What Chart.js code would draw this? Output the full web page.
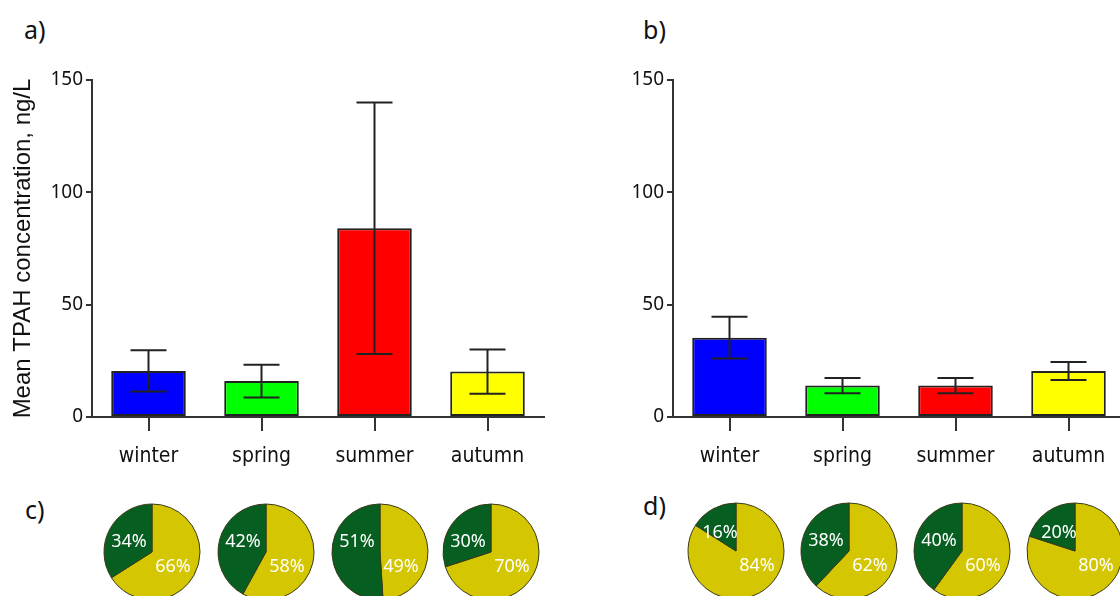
<!DOCTYPE html>
<html>
<head>
<meta charset="utf-8">
<script src="https://cdn.jsdelivr.net/npm/chart.js@4.4.1/dist/chart.umd.min.js"></script>
<style>
  html, body { margin: 0; padding: 0; background: #fff; }
  body { position: relative; width: 1120px; height: 596px; overflow: hidden; }
  canvas { position: absolute; }
  .tag { position: absolute; font-family: "Noto Sans", sans-serif; font-size: 25px; color: #111; line-height: 1; }
</style>
</head>
<body>
<div class="tag" style="left:24px; top:17px;">a)</div>
<div class="tag" style="left:643px; top:17px;">b)</div>
<div class="tag" style="left:25px; top:497px;">c)</div>
<div class="tag" style="left:643px; top:493px;">d)</div>

<canvas id="chartA" width="560" height="480" style="left:0; top:0;"></canvas>
<canvas id="chartB" width="560" height="480" style="left:581px; top:0;"></canvas>

<canvas id="pieC0" width="104" height="104"></canvas>
<canvas id="pieC1" width="104" height="104"></canvas>
<canvas id="pieC2" width="104" height="104"></canvas>
<canvas id="pieC3" width="104" height="104"></canvas>
<canvas id="pieD0" width="104" height="104"></canvas>
<canvas id="pieD1" width="104" height="104"></canvas>
<canvas id="pieD2" width="104" height="104"></canvas>
<canvas id="pieD3" width="104" height="104"></canvas>

<script>
// data
const seasons = ['winter', 'spring', 'summer', 'autumn'];
const yTicks = [0, 50, 100, 150];
const meanA = [20.5, 16, 84, 20.2];
const errA = [9.2, 7.3, 56, 9.8];
const meanB = [35.3, 14, 14, 20.5];
const errB = [9.3, 3.4, 3.4, 4];
const barColors = ['#0000ff', '#00ff00', '#ff0000', '#ffff00'];
// pie shares (dark = first %, light = second %)
const darkC = [34, 42, 51, 30];
const lightC = [66, 58, 49, 70];
const darkD = [16, 38, 40, 20];
const lightD = [84, 62, 60, 80];

const axisColor = '#333';

// draws mean +/- error whiskers on top of the bars
const errorBars = {
    id: 'errorBars',
    afterDatasetsDraw(chart, args, opts) {
        const meta = chart.getDatasetMeta(0);
        const yScale = chart.scales.y;
        const vals = chart.data.datasets[0].data;
        const ctx = chart.ctx;
        ctx.save();
        ctx.strokeStyle = '#222';
        ctx.lineWidth = 2;
        meta.data.forEach(function(bar, i) {
            const hi = yScale.getPixelForValue(vals[i] + opts.errors[i]);
            const lo = yScale.getPixelForValue(vals[i] - opts.errors[i]);
            const half = 18;
            ctx.beginPath();
            ctx.moveTo(bar.x, hi);
            ctx.lineTo(bar.x, lo);
            ctx.moveTo(bar.x - half, hi);
            ctx.lineTo(bar.x + half, hi);
            ctx.moveTo(bar.x - half, lo);
            ctx.lineTo(bar.x + half, lo);
            ctx.stroke();
        });
        ctx.restore();
    }
};

function barConfig(values, errors, showTitle) {
    return {
        type: 'bar',
        data: {
            labels: seasons,
            datasets: [{
                data: values,
                backgroundColor: barColors,
                borderColor: '#222',
                borderWidth: 2,
                borderSkipped: false,
                barPercentage: 0.66,
                categoryPercentage: 1
            }]
        },
        options: {
            responsive: false,
            animation: false,
            events: [],
            layout: { padding: { top: 80, right: 16, left: 0, bottom: 0 } },
            plugins: {
                legend: { display: false },
                tooltip: { enabled: false },
                errorBars: { errors: errors }
            },
            scales: {
                x: {
                    offset: true,
                    grid: {
                        offset: false,
                        drawOnChartArea: false,
                        color: axisColor,
                        lineWidth: 2,
                        tickLength: 14
                    },
                    border: { color: axisColor, width: 2 },
                    ticks: {
                        color: '#111',
                        maxRotation: 0,
                        padding: 13,
                        font: { family: '"DejaVu Sans Condensed", "Liberation Sans", sans-serif', size: 21 }
                    },
                    afterFit: function(s) { s.height = 63; }
                },
                y: {
                    min: 0,
                    max: 150,
                    afterBuildTicks: function(s) { s.ticks = yTicks.map(v => ({ value: v })); },
                    grid: {
                        drawOnChartArea: false,
                        color: axisColor,
                        lineWidth: 2,
                        tickLength: 6
                    },
                    border: { color: axisColor, width: 2 },
                    ticks: {
                        color: '#111',
                        padding: 3,
                        font: { family: '"Noto Sans", sans-serif', size: 19 }
                    },
                    title: {
                        display: showTitle,
                        text: 'Mean TPAH concentration, ng/L',
                        color: '#111',
                        padding: { top: 9, bottom: 0 },
                        font: { family: '"Liberation Sans", Arial, sans-serif', size: 24 }
                    },
                    afterFit: function(s) { s.width = 92; }
                }
            }
        },
        plugins: [errorBars]
    };
}

new Chart(document.getElementById('chartA'), barConfig(meanA, errA, true));
new Chart(document.getElementById('chartB'), barConfig(meanB, errB, false));

// percentage labels inside the pies
const pieLabels = {
    id: 'pieLabels',
    afterDatasetsDraw(chart) {
        const arc = chart.getDatasetMeta(0).data[0];
        const vals = chart.data.datasets[0].data;
        const ctx = chart.ctx;
        const cx = arc.x, cy = arc.y;
        ctx.save();
        ctx.fillStyle = '#fff';
        ctx.font = '18px "Noto Sans", sans-serif';
        ctx.textAlign = 'center';
        ctx.textBaseline = 'middle';
        // light share, lower right
        ctx.fillText(vals[0] + '%', cx + 21, cy + 15);
        // dark share, upper left (pulled up for small slices)
        if (vals[1] < 25) ctx.fillText(vals[1] + '%', cx - 16, cy - 18);
        else ctx.fillText(vals[1] + '%', cx - 23, cy - 10);
        ctx.restore();
    }
};

function makePie(id, left, top, light, dark) {
    const el = document.getElementById(id);
    el.style.left = left + 'px';
    el.style.top = top + 'px';
    new Chart(el, {
        type: 'pie',
        data: {
            labels: ['light', 'dark'],
            datasets: [{
                data: [light, dark],
                backgroundColor: ['rgb(212, 198, 0)', 'rgb(6, 94, 32)'],
                borderColor: '#3a3a1a',
                borderWidth: 1
            }]
        },
        options: {
            responsive: false,
            animation: false,
            events: [],
            radius: 48,
            plugins: { legend: { display: false }, tooltip: { enabled: false } }
        },
        plugins: [pieLabels]
    });
}

const pieCentersC = [152, 266, 380, 491];
const pieCentersD = [736, 849, 962, 1075];
pieCentersC.forEach((cx, i) => makePie('pieC' + i, cx - 52, 552 - 52, lightC[i], darkC[i]));
pieCentersD.forEach((cx, i) => makePie('pieD' + i, cx - 52, 551 - 52, lightD[i], darkD[i]));
</script>
</body>
</html>
